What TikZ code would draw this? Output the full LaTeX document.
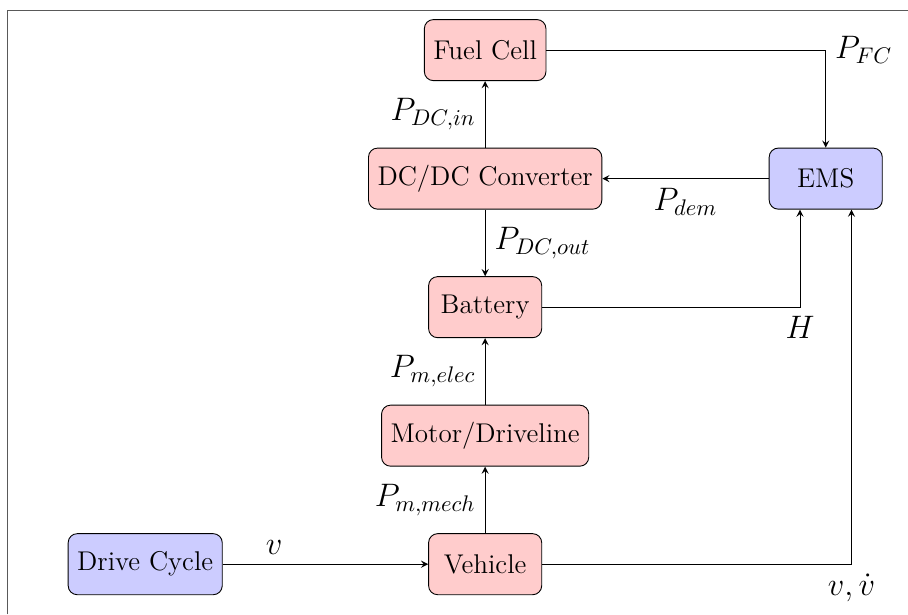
\documentclass[tikz,border=0pt,12pt]{standalone}
\usepackage{xcolor}
\usepackage{tikz}

\begin{document}
\begin{tikzpicture}[>=stealth,
    block/.style={draw,rounded corners,fill=red!20,minimum width=1.76cm,minimum height=0.95cm},
    ctrl/.style={block,fill=blue!20},
    lbl/.style={font=\large}]
\useasboundingbox (-7.55,-0.78) rectangle (6.58,8.78);

% Frame
\draw[gray!70!black] (-7.44,-0.78) -- (-7.44,8.61) -- (6.58,8.61);

% Blocks
\node[block] (fuelcell) at (0,8) {Fuel Cell};
\node[block] (dcdc) at (0,6) {DC/DC Converter};
\node[block] (battery) at (0,4) {Battery};
\node[block] (motor) at (0,2) {Motor/Driveline};
\node[block] (vehicle) at (0,0) {Vehicle};
\node[ctrl] (cycle) at (-5.29,0) {Drive Cycle};
\node[ctrl] (ems) at (5.3,6) {EMS};

% Power flow
\draw[->] (cycle) -- node[lbl,above,pos=0.25] {$v$} (vehicle);
\draw[->] (vehicle) -- node[lbl,left] {$P_{m,mech}$} (motor);
\draw[->] (motor) -- node[lbl,left] {$P_{m,elec}$} (battery);
\draw[->] (dcdc) -- node[lbl,right] {$P_{DC,out}$} (battery);
\draw[->] (dcdc) -- node[lbl,left] {$P_{DC,in}$} (fuelcell);

% Signals to and from the EMS
\draw[->] (ems) -- node[lbl,below] {$P_{dem}$} (dcdc);
\draw[->] (fuelcell) -| node[lbl,right,pos=0.5] {$P_{FC}$} (ems);
\draw[->] (battery) -| node[lbl,below,pos=0.5] {$H$} ([xshift=-0.4cm]ems.south);
\draw[->] (vehicle) -| node[lbl,below,pos=0.5] {$v,\dot{v}$} ([xshift=0.4cm]ems.south);

\end{tikzpicture}
\end{document}
